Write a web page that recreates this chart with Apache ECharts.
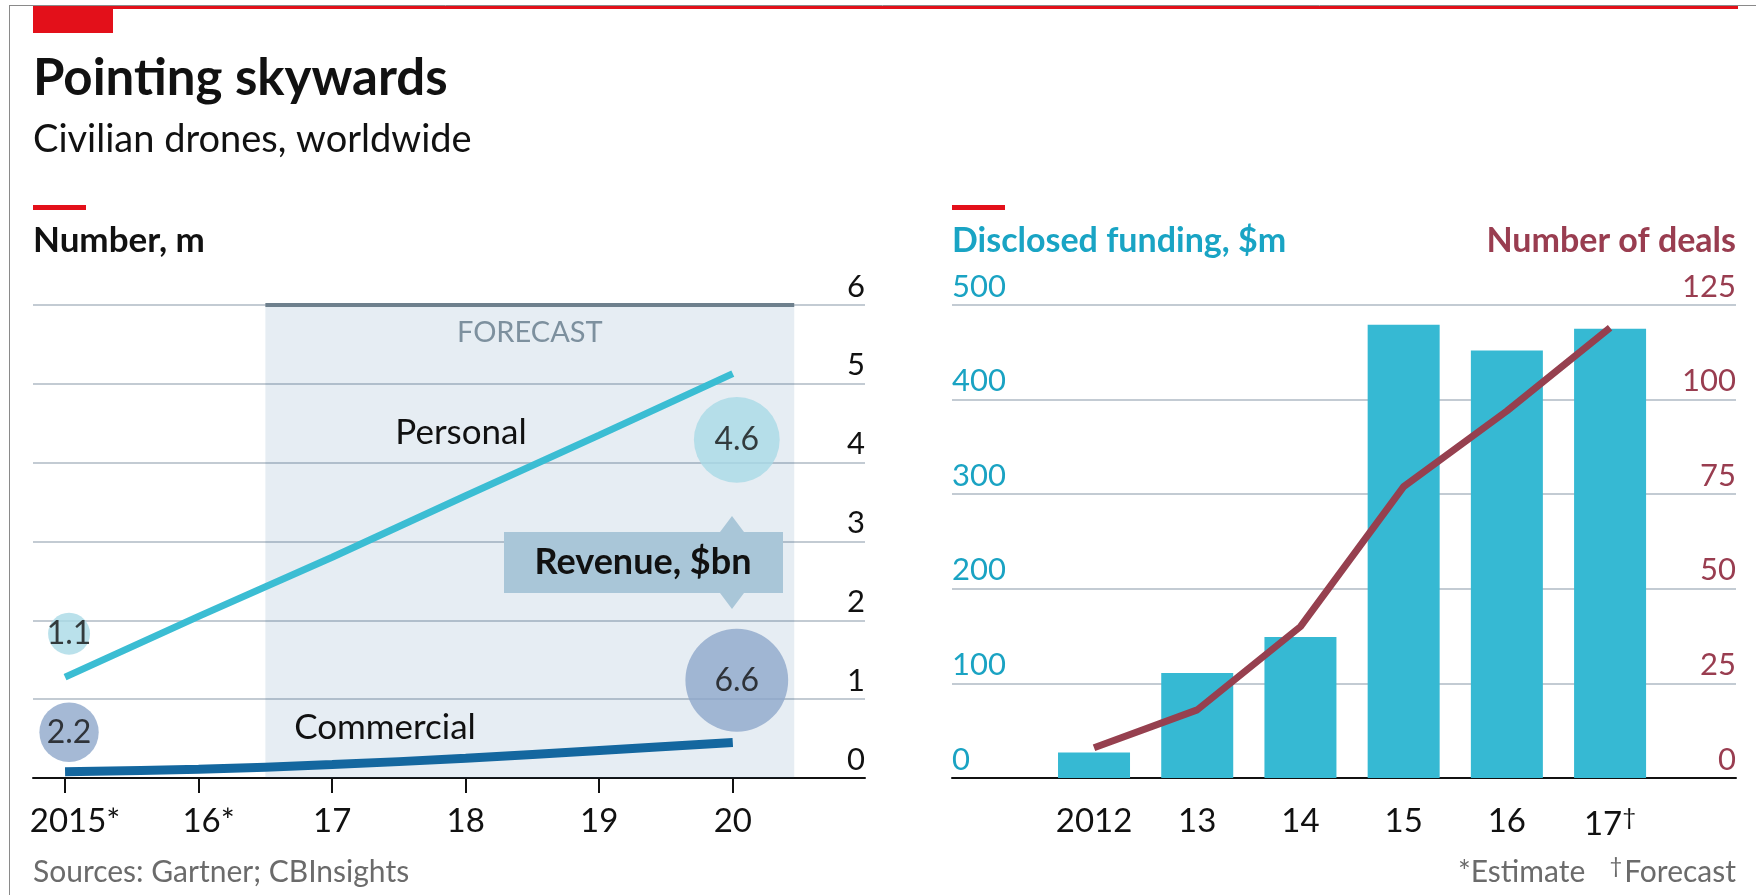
<!DOCTYPE html>
<html>
<head>
<meta charset="utf-8">
<script src="https://cdn.jsdelivr.net/npm/echarts@6/dist/echarts.min.js"></script>
<style>
  html, body { margin: 0; padding: 0; background: #fff; }
  #chart { width: 1756px; height: 895px; }
</style>
</head>
<body>
<div id="chart"></div>
<script>
// left panel: number of drones, m
const droneYears = [2015, 2016, 2017, 2018, 2019, 2020]
const droneLabels = ['2015*', '16*', '17', '18', '19', '20']
const personal = [1.28, 2.05, 2.8, 3.58, 4.35, 5.13]
const commercial = [0.08, 0.11, 0.17, 0.25, 0.35, 0.45]
// revenue bubbles, $bn
const revenueYears = [2015, 2015, 2020, 2020]
const revenueValues = [1.1, 2.2, 4.6, 6.6]
const droneTicks = [0, 1, 2, 3, 4, 5, 6]

// right panel: funding and deals
const fundYears = [2012, 2013, 2014, 2015, 2016, 2017]
const fundLabels = ['2012', '13', '14', '15', '16', '17†']
const funding = [27, 111, 149, 479, 452, 475]
const deals = [8, 18, 40, 77, 97, 119]
const fundingTicks = [0, 100, 200, 300, 400, 500]
const dealTicks = [0, 25, 50, 75, 100, 125]

const FONT = 'Lato, "Noto Sans", sans-serif'
const GRID_LINE = '#c3cbd3'

const chart = echarts.init(document.getElementById('chart'))

// where the bubbles sit (layout only)
const bubbleY = [1.83, 0.58, 4.29, 1.24]
const bubbleColors = ['#a9d9e6', '#8ea7cb', '#a9d9e6', '#8ea7cb']

function yearLabel(labels, years) {
    return v => {
        const i = years.indexOf(Math.round(v))
        if (i < 0) return ''
        const t = labels[i]
        const m = t.match(/^(\d+)([*†]?)$/)
        if (!m || !m[2]) return '{n|' + t + '}'
        if (m[2] === '†') return '{n|' + m[1] + '}{d|†}'
        return '{m|' + m[1] + '}{s|*}'
    }
}
const labelRich = {
    n: {fontSize: 33, fontFamily: FONT, color: '#111'},
    m: {fontSize: 33, fontFamily: FONT, color: '#111', padding: [0, 0, 0, 20]},
    s: {fontSize: 33, fontFamily: FONT, color: '#111'},
    d: {fontSize: 24, fontFamily: FONT, color: '#111', verticalAlign: 'top', padding: [0, 0, 14, 0]}
}

const yLabel = color => ({inside: true, margin: 0, verticalAlign: 'bottom', padding: [0, 0, 3, 0],
    fontSize: 31, fontFamily: FONT, color: color})

const option = {
    animation: false,
    backgroundColor: '#fff',
    grid: [
        {left: 33, right: 891, top: 305, bottom: 117},
        {left: 952, right: 20, top: 305, bottom: 117}
    ],
    xAxis: [{
        type: 'value', gridIndex: 0, min: 2014.76, max: 2020.99,
        splitLine: {show: false},
        axisLine: {show: true, onZero: false, lineStyle: {color: '#111', width: 2}},
        axisTick: {show: true, customValues: droneYears, length: 15, lineStyle: {color: '#111', width: 2}},
        axisLabel: {customValues: droneYears, formatter: yearLabel(droneLabels, droneYears), margin: 27, rich: labelRich}
    }, {
        type: 'value', gridIndex: 1, min: 2010.624, max: 2018.22,
        splitLine: {show: false},
        axisLine: {show: true, onZero: false, lineStyle: {color: '#111', width: 2}},
        axisTick: {show: false},
        axisLabel: {customValues: fundYears, formatter: yearLabel(fundLabels, fundYears), margin: 27, rich: labelRich}
    }],
    yAxis: [{
        type: 'value', gridIndex: 0, position: 'right', min: 0, max: 6, interval: 1,
        axisLine: {show: false}, axisTick: {show: false},
        splitLine: {lineStyle: {color: GRID_LINE, width: 2}},
        axisLabel: yLabel('#111')
    }, {
        type: 'value', gridIndex: 1, position: 'left', min: 0, max: 500, interval: 100,
        axisLine: {show: false}, axisTick: {show: false},
        splitLine: {lineStyle: {color: GRID_LINE, width: 2}},
        axisLabel: yLabel('#1aa3c3')
    }, {
        type: 'value', gridIndex: 1, position: 'right', min: 0, max: 125, interval: 25,
        axisLine: {show: false}, axisTick: {show: false},
        splitLine: {show: false},
        axisLabel: yLabel('#993d50')
    }],
    series: [{
        // forecast shading
        type: 'scatter', xAxisIndex: 0, yAxisIndex: 0, data: [], z: 1,
        markArea: {
            silent: true,
            itemStyle: {color: 'rgba(30,90,150,0.11)'},
            label: {show: true, position: 'insideTop', distance: 13, formatter: 'FORECAST',
                fontSize: 29, fontFamily: FONT, color: '#7d909e'},
            data: [[{xAxis: 2016.5, yAxis: 6}, {xAxis: 2020.46, yAxis: 0}]]
        },
        markLine: {
            silent: true, symbol: 'none', label: {show: false},
            lineStyle: {color: '#6e808d', width: 4, type: 'solid'},
            data: [[{coord: [2016.5, 6]}, {coord: [2020.46, 6]}]]
        }
    }, {
        name: 'Personal', type: 'line', xAxisIndex: 0, yAxisIndex: 0, z: 3,
        data: droneYears.map((y, i) => [y, personal[i]]),
        symbol: 'none', lineStyle: {color: '#3bbdd3', width: 7, cap: 'butt'}
    }, {
        name: 'Commercial', type: 'line', xAxisIndex: 0, yAxisIndex: 0, z: 3,
        data: droneYears.map((y, i) => [y, commercial[i]]),
        symbol: 'none', smooth: 0.3, lineStyle: {color: '#14679f', width: 9, cap: 'butt'}
    }, {
        name: 'Revenue', type: 'scatter', xAxisIndex: 0, yAxisIndex: 0, z: 4,
        data: revenueYears.map((y, i) => ({
            value: [y + 0.03, bubbleY[i], revenueValues[i]],
            itemStyle: {color: bubbleColors[i]}
        })),
        symbolSize: v => 40 * Math.sqrt(v[2]),
        label: {show: true, position: 'inside', formatter: p => p.value[2].toFixed(1),
            fontSize: 32, fontFamily: FONT, color: '#111'}
    }, {
        name: 'Disclosed funding', type: 'bar', xAxisIndex: 1, yAxisIndex: 1,
        data: fundYears.map((y, i) => [y, funding[i]]),
        barWidth: 72, itemStyle: {color: '#36b9d3'}
    }, {
        name: 'Number of deals', type: 'line', xAxisIndex: 1, yAxisIndex: 2, z: 3,
        data: fundYears.map((y, i) => [y, deals[i]]),
        symbol: 'none', lineStyle: {color: '#96404f', width: 7, cap: 'butt'}
    }],
    graphic: [
        // frame and header bars
        {type: 'line', shape: {x1: 9, y1: 5.5, x2: 1756, y2: 5.5}, style: {stroke: '#8a8a8a', lineWidth: 1}},
        {type: 'line', shape: {x1: 9.5, y1: 5, x2: 9.5, y2: 895}, style: {stroke: '#8a8a8a', lineWidth: 1}},
        {type: 'rect', shape: {x: 33, y: 6, width: 1705, height: 3}, style: {fill: '#e3101a'}},
        {type: 'rect', shape: {x: 33, y: 6, width: 80, height: 27}, style: {fill: '#e3101a'}},
        {type: 'text', x: 33, y: 79, style: {text: 'Pointing skywards', font: 'bold 51px ' + FONT, fill: '#111', verticalAlign: 'middle'}},
        {type: 'text', x: 33, y: 140, style: {text: 'Civilian drones, worldwide', font: '38px ' + FONT, fill: '#111', verticalAlign: 'middle'}},
        {type: 'rect', shape: {x: 33, y: 205, width: 53, height: 5}, style: {fill: '#e3101a'}},
        {type: 'text', x: 33, y: 241, style: {text: 'Number, m', font: 'bold 35px ' + FONT, fill: '#111', verticalAlign: 'middle'}},
        {type: 'rect', shape: {x: 952, y: 205, width: 53, height: 5}, style: {fill: '#e3101a'}},
        {type: 'text', x: 952, y: 241, style: {text: 'Disclosed funding, $m', font: 'bold 34px ' + FONT, fill: '#19a4c4', verticalAlign: 'middle'}},
        {type: 'text', x: 1736, y: 241, style: {text: 'Number of deals', font: 'bold 34px ' + FONT, fill: '#993d50', align: 'right', verticalAlign: 'middle'}},
        // line labels
        {type: 'text', x: 461, y: 433, z: 10, style: {text: 'Personal', font: '35px ' + FONT, fill: '#111', align: 'center', verticalAlign: 'middle'}},
        {type: 'text', x: 385, y: 728, z: 10, style: {text: 'Commercial', font: '35px ' + FONT, fill: '#111', align: 'center', verticalAlign: 'middle'}},
        // revenue key
        {type: 'polygon', z: 10, shape: {points: [[720, 532], [744, 532], [732, 516]]}, style: {fill: '#a9c6d8'}},
        {type: 'polygon', z: 10, shape: {points: [[720, 593], [744, 593], [732, 609]]}, style: {fill: '#a9c6d8'}},
        {type: 'rect', z: 10, shape: {x: 504, y: 532, width: 279, height: 61}, style: {fill: '#a9c6d8'}},
        {type: 'text', z: 11, x: 643, y: 562, style: {text: 'Revenue, $bn', font: 'bold 36px ' + FONT, fill: '#111', align: 'center', verticalAlign: 'middle'}},
        // footnotes
        {type: 'text', x: 33, y: 872, style: {text: 'Sources: Gartner; CBInsights', font: '30px ' + FONT, fill: '#6b6b6b', verticalAlign: 'middle'}},
        {type: 'text', x: 1458, y: 872, style: {text: '*Estimate', font: '30px ' + FONT, fill: '#6b6b6b', verticalAlign: 'middle'}},
        {type: 'text', x: 1736, y: 872, style: {
            text: '{d|†}{t|Forecast}', align: 'right', verticalAlign: 'middle',
            rich: {
                d: {font: '22px ' + FONT, fill: '#6b6b6b', verticalAlign: 'top', padding: [0, 2, 12, 0]},
                t: {font: '30px ' + FONT, fill: '#6b6b6b'}
            }
        }}
    ]
}

chart.setOption(option)
</script>
</body>
</html>
